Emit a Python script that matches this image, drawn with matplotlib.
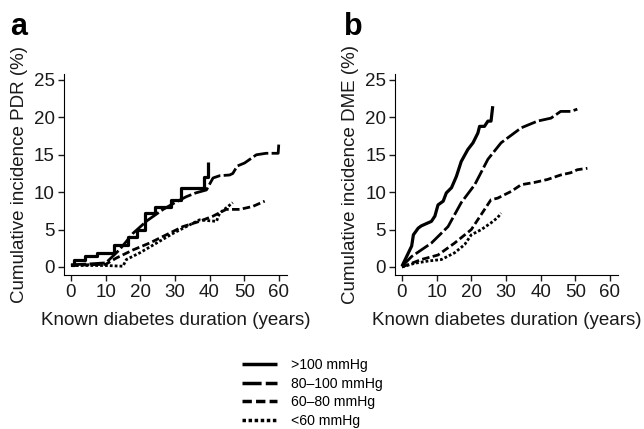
import matplotlib
matplotlib.use("Agg")
import matplotlib.pyplot as plt
from matplotlib.lines import Line2D

plt.rcParams['font.family'] = ['Liberation Sans', 'DejaVu Sans']

labels = [">100 mmHg", "80\u2013100 mmHg", "60\u201380 mmHg", "<60 mmHg"]
dash_styles = [(None, None), (5.5, 1.2), (2.7, 1.2), (1.0, 0.75)]

# panel a: cumulative incidence PDR (%)
a_gt100_x = [0, 1, 4, 7.4, 12.5, 16.5, 19, 21.3, 24.2, 29, 31.9, 38.3, 39.5, 39.6]
a_gt100_y = [0.3, 1, 1.5, 1.9, 3, 4, 5, 7.2, 8, 9, 10.5, 12, 14, 14]
a_80_x = [0, 5, 10.1, 14, 17.9, 22, 26.6, 30, 33.3, 36, 39.1, 41, 42.9, 45.8, 46.7, 48, 50.1, 53.5, 56.3, 59.8, 60]
a_80_y = [0.3, 0.4, 0.55, 2.3, 4.5, 6.2, 7.7, 8.6, 9.4, 9.9, 10.3, 11.9, 12.2, 12.3, 12.5, 13.5, 13.9, 15.0, 15.2, 15.2, 16.6]
a_60_x = [0, 5, 10, 13.1, 18, 22.7, 27.5, 32.3, 37.1, 41, 44.8, 48.7, 52.5, 55.9]
a_60_y = [0.2, 0.3, 0.35, 1.2, 2.3, 3.2, 4.3, 5.4, 6.1, 6.8, 7.7, 7.7, 8.1, 8.8]
a_lt60_x = [0, 5, 10, 15, 16, 19.9, 24.7, 29.5, 33.3, 37.1, 42, 42.9, 46.7]
a_lt60_y = [0.2, 0.2, 0.2, 0.1, 1.0, 1.9, 3.2, 4.5, 5.4, 6.3, 6.1, 7.2, 8.6]

# panel b: cumulative incidence DME (%)
b_gt100_x = [0, 2.8, 3.3, 4.7, 5.6, 8.5, 9.5, 10.4, 11.9, 12.8, 14.3, 15.7, 17.1, 19, 20.5, 21.9, 22.4, 23.8, 24.8, 25.7, 26.2]
b_gt100_y = [0.1, 2.8, 4.3, 5.2, 5.5, 6.1, 6.8, 8.3, 8.8, 9.9, 10.6, 12.1, 14.1, 15.7, 16.6, 17.9, 18.8, 18.8, 19.5, 19.5, 21.5]
b_80_x = [0, 2.8, 8.5, 13.3, 17.1, 21, 24.8, 28.6, 34.4, 39.1, 43, 45.8, 48.7, 50.6]
b_80_y = [0.1, 1.4, 3.2, 5.4, 8.6, 11, 14.4, 16.6, 18.6, 19.5, 19.9, 20.8, 20.8, 21.1]
b_60_x = [0, 5.6, 10.4, 15.2, 20, 25.7, 27.6, 31.5, 34.4, 38.2, 42, 45.8, 48.7, 50.6, 53.5]
b_60_y = [0, 1.0, 1.6, 3.2, 5.0, 9.0, 9.2, 10.1, 11, 11.3, 11.7, 12.3, 12.6, 13, 13.2]
b_lt60_x = [0, 3.7, 7.6, 11.4, 15.2, 18.1, 20, 22.9, 25.7, 27.6, 28.6]
b_lt60_y = [0, 0.5, 0.8, 1.0, 1.9, 3.0, 4.3, 5.0, 5.9, 6.6, 7.2]

panels = [
    ("a", "Cumulative incidence PDR (%)",
     [(a_gt100_x, a_gt100_y), (a_80_x, a_80_y), (a_60_x, a_60_y), (a_lt60_x, a_lt60_y)]),
    ("b", "Cumulative incidence DME (%)",
     [(b_gt100_x, b_gt100_y), (b_80_x, b_80_y), (b_60_x, b_60_y), (b_lt60_x, b_lt60_y)]),
]

fig = plt.figure(figsize=(6.44, 4.29), dpi=100)
lefts = [0.0994, 0.6134]
letter_x = [0.0155, 0.534]

for left, lx, (letter, ylabel, series) in zip(lefts, letter_x, panels):
    ax = fig.add_axes([left, 0.359, 0.346, 0.4685])
    for i, (xs, ys) in enumerate(series):
        ds = 'steps-post' if (letter == "a" and i == 0) else 'default'
        line, = ax.plot(xs, ys, color='black', lw=2.3 if i == 0 else 2.0, drawstyle=ds,
                        solid_capstyle='butt', dash_capstyle='butt')
        if i > 0:
            line.set_dashes(dash_styles[i])
    ax.set_xlim(-2, 62.3)
    ax.set_ylim(-1.07, 25.8)
    ax.set_xticks([0, 10, 20, 30, 40, 50, 60])
    ax.set_yticks([0, 5, 10, 15, 20, 25])
    ax.spines['top'].set_visible(False)
    ax.spines['right'].set_visible(False)
    ax.tick_params(labelsize=13.5, length=4, width=1, pad=2.5, colors='#1a1a1a')
    ax.set_xlabel("Known diabetes duration (years)", fontsize=13.5, labelpad=8, color='#1a1a1a')
    ax.set_ylabel(ylabel, fontsize=13.5, labelpad=4, color='#1a1a1a')
    fig.text(lx, 0.918, letter, fontsize=22, fontweight='bold',
             ha='left', va='baseline')

handles = []
for i, lab in enumerate(labels):
    h = Line2D([], [], color='black', lw=2.5, solid_capstyle='butt', dash_capstyle='butt')
    if i > 0:
        h.set_dashes(dash_styles[i])
    handles.append(h)
fig.legend(handles, labels, loc='upper left', bbox_to_anchor=(0.376, 0.165),
           frameon=False, fontsize=10.1, handlelength=2.5, handletextpad=1.0,
           labelspacing=0.32, borderpad=0, borderaxespad=0)

fig.savefig("out.png", dpi=100)
